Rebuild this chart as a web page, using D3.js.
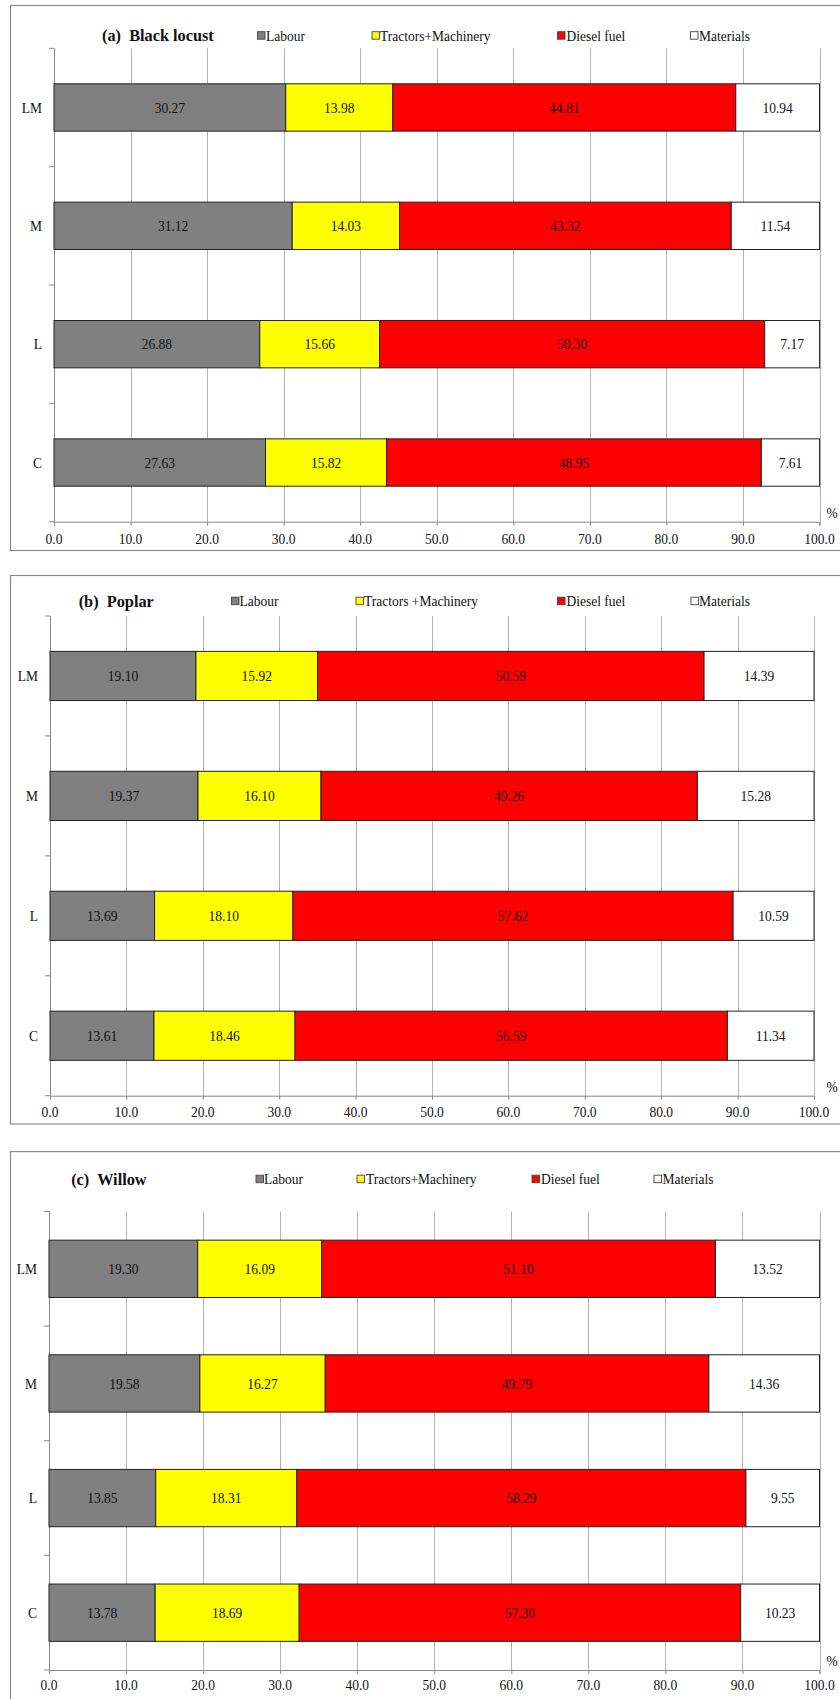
<!DOCTYPE html>
<html>
<head>
<meta charset="utf-8">
<script src="https://cdn.jsdelivr.net/npm/d3@7"></script>
<style>
  html, body { margin: 0; padding: 0; background: #ffffff; }
  svg { display: block; }
  text { font-family: "Liberation Serif", "Times New Roman", serif; fill: #111; }
</style>
</head>
<body>
<script>
// ---- data -------------------------------------------------------------
const categories = ["LM", "M", "L", "C"];
const seriesColors = ["#808080", "#ffff00", "#ff0000", "#ffffff"];
const xTickValues = [0, 10, 20, 30, 40, 50, 60, 70, 80, 90, 100];

// (a) Black locust
const locustNames = ["Labour", "Tractors+Machinery", "Diesel fuel", "Materials"];
const locustLabour = [30.27, 31.12, 26.88, 27.63];
const locustTractors = [13.98, 14.03, 15.66, 15.82];
const locustDiesel = [44.81, 43.32, 50.30, 48.95];
const locustMaterials = [10.94, 11.54, 7.17, 7.61];

// (b) Poplar
const poplarNames = ["Labour", "Tractors +Machinery", "Diesel fuel", "Materials"];
const poplarLabour = [19.10, 19.37, 13.69, 13.61];
const poplarTractors = [15.92, 16.10, 18.10, 18.46];
const poplarDiesel = [50.59, 49.26, 57.62, 56.59];
const poplarMaterials = [14.39, 15.28, 10.59, 11.34];

// (c) Willow
const willowNames = ["Labour", "Tractors+Machinery", "Diesel fuel", "Materials"];
const willowLabour = [19.30, 19.58, 13.85, 13.78];
const willowTractors = [16.09, 16.27, 18.31, 18.69];
const willowDiesel = [51.10, 49.79, 58.29, 57.30];
const willowMaterials = [13.52, 14.36, 9.55, 10.23];

// ---- layout per panel ---------------------------------------------------
const panels = [
  {
    title: "(a)  Black locust", names: locustNames,
    values: [locustLabour, locustTractors, locustDiesel, locustMaterials],
    frame: [5.5, 550.5], titleX: 102, headY: 35.5,
    legendSq: [257.5, 372, 557.5, 690.5], legendTx: [266, 380, 566.5, 699],
    x0: 54, x1: 819.5, gridTop: 48.3, top: 48.3, axisY: 521.7, pad: 0.6, tickY: 539
  },
  {
    title: "(b)  Poplar", names: poplarNames,
    values: [poplarLabour, poplarTractors, poplarDiesel, poplarMaterials],
    frame: [575.5, 1124], titleX: 78.7, headY: 601,
    legendSq: [231.5, 356, 557.5, 691], legendTx: [239.5, 364, 566.5, 699],
    x0: 50, x1: 814, gridTop: 616, top: 616, axisY: 1095.7, pad: 0.59, tickY: 1112
  },
  {
    title: "(c)  Willow", names: willowNames,
    values: [willowLabour, willowTractors, willowDiesel, willowMaterials],
    frame: [1151.6, 1760], titleX: 71.2, headY: 1179,
    legendSq: [256, 357, 532, 654], legendTx: [264, 366, 541, 662.5],
    x0: 49, x1: 819.5, gridTop: 1211.5, top: 1211.5, axisY: 1670, pad: 0.5, tickY: 1685
  }
];

const W = 840, H = 1699;
const svg = d3.select("body").append("svg").attr("width", W).attr("height", H);
svg.append("rect").attr("width", W).attr("height", H).attr("fill", "#ffffff");

const FONT = 13.5;
const STRETCH = 1.08;

function label(g, x, y, str, opts = {}) {
  return g.append("text")
    .attr("transform", `translate(${x},${y}) scale(1,${STRETCH})`)
    .attr("text-anchor", opts.anchor || "middle")
    .attr("dominant-baseline", "central")
    .style("font-size", (opts.size || FONT) + "px")
    .style("font-weight", opts.bold ? "bold" : "normal")
    .style("white-space", "pre")
    .text(str);
}

panels.forEach(p => {
  const g = svg.append("g");

  // outer frame
  g.append("rect")
    .attr("x", 10.5).attr("y", p.frame[0])
    .attr("width", W).attr("height", p.frame[1] - p.frame[0])
    .attr("fill", "none").attr("stroke", "#8a8a8a").attr("stroke-width", 1.2);

  // rows for stacking
  const keys = d3.range(p.names.length);
  const rows = categories.map((c, i) => {
    const r = { cat: c };
    keys.forEach(k => { r[k] = p.values[k][i]; });
    return r;
  });

  const x = d3.scaleLinear().domain([0, 100]).range([p.x0, p.x1]);
  const y = d3.scaleBand().domain(categories).range([p.top, p.axisY])
    .paddingInner(p.pad).paddingOuter(p.pad / 2);

  // vertical gridlines
  g.append("g").selectAll("line").data(xTickValues.slice(1)).join("line")
    .attr("x1", d => Math.round(x(d)) + 0.5).attr("x2", d => Math.round(x(d)) + 0.5)
    .attr("y1", p.gridTop).attr("y2", p.axisY)
    .attr("stroke", "#b4b4b4").attr("stroke-width", 1);

  // x axis
  const xAxis = d3.axisBottom(x).tickValues(xTickValues)
    .tickFormat(d3.format(".1f")).tickSize(4).tickPadding(0);
  const xg = g.append("g").attr("transform", `translate(0,${p.axisY})`).call(xAxis);
  xg.select(".domain").attr("stroke", "#888");
  xg.selectAll(".tick line").attr("stroke", "#888");
  xg.selectAll(".tick text").remove();
  xTickValues.forEach(v => label(g, x(v), p.tickY, d3.format(".1f")(v)));

  // y axis (category separators)
  const step = y.step();
  const bounds = d3.range(categories.length + 1).map(i => p.axisY - i * step);
  g.append("line").attr("x1", p.x0 + 0.5).attr("x2", p.x0 + 0.5)
    .attr("y1", p.gridTop).attr("y2", p.axisY).attr("stroke", "#888");
  g.append("g").selectAll("line").data(bounds).join("line")
    .attr("x1", p.x0 - 5).attr("x2", p.x0)
    .attr("y1", d => d).attr("y2", d => d).attr("stroke", "#888");
  categories.forEach(c => label(g, p.x0 - 12, y(c) + y.bandwidth() / 2, c, { anchor: "end" }));

  // stacked bars
  const stacked = d3.stack().keys(keys)(rows);
  const layers = g.append("g").selectAll("g").data(stacked).join("g")
    .attr("fill", d => seriesColors[d.key]);
  layers.selectAll("rect").data(d => d).join("rect")
    .attr("x", d => x(d[0]))
    .attr("y", d => y(d.data.cat))
    .attr("width", d => x(d[1]) - x(d[0]))
    .attr("height", y.bandwidth())
    .attr("stroke", "#222").attr("stroke-width", 1);

  // value labels
  stacked.forEach(layer => {
    layer.forEach(d => {
      label(g, (x(d[0]) + x(d[1])) / 2, y(d.data.cat) + y.bandwidth() / 2,
        d3.format(".2f")(d[1] - d[0]));
    });
  });

  // percent unit
  label(g, 832, p.axisY - 9, "%");

  // title and legend
  label(g, p.titleX, p.headY, p.title, { anchor: "start", bold: true, size: 16.3 });
  p.names.forEach((n, k) => {
    g.append("rect")
      .attr("x", p.legendSq[k]).attr("y", p.headY - 3.8)
      .attr("width", 7.5).attr("height", 7.5)
      .attr("fill", seriesColors[k]).attr("stroke", "#444").attr("stroke-width", 0.9);
    label(g, p.legendTx[k], p.headY, n, { anchor: "start" });
  });
});
</script>
</body>
</html>
